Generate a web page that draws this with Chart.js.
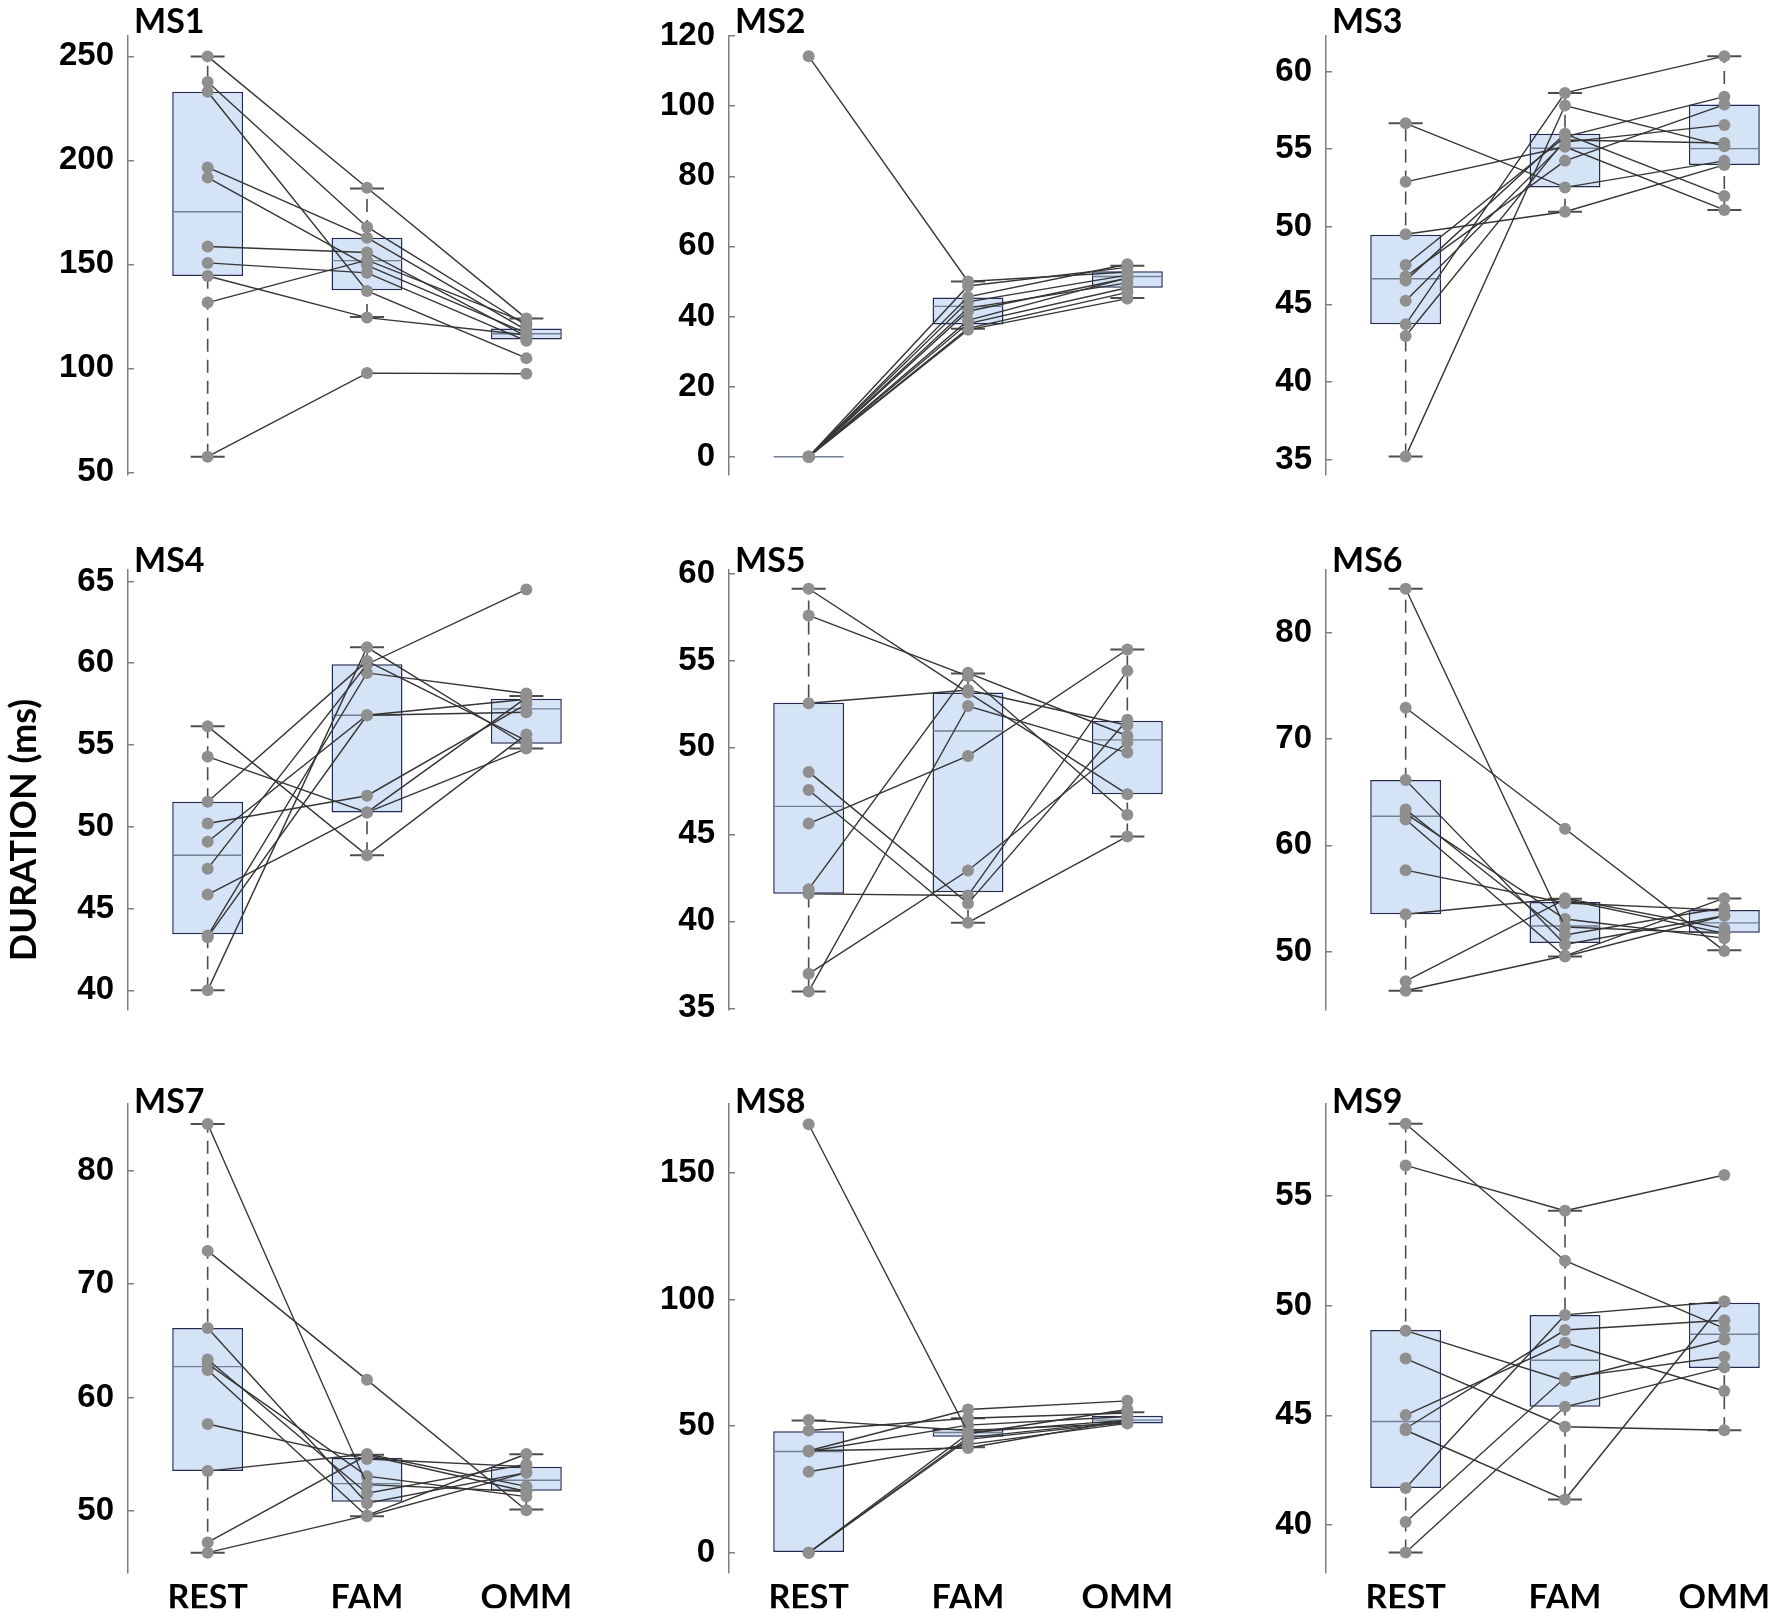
<!DOCTYPE html>
<html>
<head>
<meta charset="utf-8">
<script src="https://cdn.jsdelivr.net/npm/chart.js@4.4.1/dist/chart.umd.min.js"></script>
<style>
    html, body { margin: 0; padding: 0; background: #fff; overflow: hidden; }
    body { width: 1772px; height: 1613px; position: relative; }
    canvas { position: absolute; }
</style>
</head>
<body>
<script>
const conditions = ['REST', 'FAM', 'OMM'];

// one value per subject, same subject order in each condition
// box stats per condition: [lower whisker, q1, median, q3, upper whisker] (null = no whisker)
const ms1Rest = [250, 237.7, 233.0, 196.6, 191.7, 158.6, 150.7, 144.4, 131.6, 57.5];
const ms1Fam = [186.8, 168.0, 137.2, 162.8, 149.5, 155.7, 145.9, 124.4, 152.0, 97.7];
const ms1Omm = [124.0, 120.7, 104.9, 118.4, 116.9, 115.4, 113.2, 116.0, 122.0, 97.4];
const ms1Box = [[57.5, 144.4, 175.3, 233.0, 250], [124.7, 137.5, 151.8, 162.8, 186.5], [null, 113.8, 116.6, 119.2, 124.0]];
const ms1Ticks = [50, 100, 150, 200, 250];
const ms1Range = [48.7, 259.8];

const ms2Rest = [114.2, 0, 0, 0, 0, 0, 0, 0, 0, 0];
const ms2Fam = [50.0, 48.7, 45.6, 44.2, 42.4, 41.5, 38.9, 38.0, 36.6, 36.2];
const ms2Omm = [52.7, 54.0, 54.9, 51.8, 49.6, 50.9, 51.0, 48.2, 46.9, 45.1];
const ms2Box = [[null, 0, 0, 0, null], [36.5, 37.7, 42.9, 45.4, 50.0], [45.3, 48.2, 51.4, 52.9, 54.5]];
const ms2Ticks = [0, 20, 40, 60, 80, 100, 120];
const ms2Range = [-5.2, 120];

const ms3Rest = [56.67, 52.90, 49.52, 47.54, 46.79, 46.53, 45.24, 43.71, 42.96, 35.20];
const ms3Fam = [52.54, 55.16, 50.97, 55.8, 54.25, 56.0, 55.46, 58.63, 55.6, 57.82];
const ms3Omm = [54.25, 51.09, 53.99, 58.39, 57.88, 51.98, 56.57, 61.0, 55.4, 55.2];
const ms3Box = [[35.2, 43.71, 46.65, 49.48, 56.67], [50.97, 52.54, 55.06, 56.0, 58.63], [51.09, 53.99, 55.04, 57.88, 61.0]];
const ms3Ticks = [35, 40, 45, 50, 55, 60];
const ms3Range = [34.0, 62.3];

const ms4Rest = [56.14, 54.29, 51.53, 50.20, 49.09, 47.44, 45.86, 43.35, 43.25, 40.0];
const ms4Fam = [48.26, 50.88, 60.13, 51.90, 56.82, 59.94, 50.88, 59.41, 56.82, 60.97];
const ms4Omm = [55.65, 57.9, 55.27, 57.5, 57.0, 64.51, 54.78, 58.15, 57.8, 54.97];
const ms4Box = [[40.0, 43.43, 48.26, 51.53, 56.14], [48.26, 50.88, 56.82, 59.94, 60.97], [54.78, 55.07, 57.21, 57.83, 58.0]];
const ms4Ticks = [40, 45, 50, 55, 60, 65];
const ms4Range = [38.8, 65.7];

const ms5Rest = [59.12, 57.59, 52.54, 48.59, 47.55, 45.62, 41.85, 41.58, 36.98, 35.97];
const ms5Fam = [53.15, 54.10, 53.3, 41.03, 39.92, 49.51, 54.29, 41.48, 42.92, 52.38];
const ms5Omm = [47.31, 46.13, 51.27, 51.59, 44.88, 55.63, 50.67, 54.40, 50.30, 49.70];
const ms5Box = [[35.97, 41.58, 46.61, 52.56, 59.12], [39.92, 41.67, 50.94, 53.15, 54.25], [44.88, 47.31, 50.43, 51.53, 55.63]];
const ms5Ticks = [35, 40, 45, 50, 55, 60];
const ms5Range = [34.9, 60.2];

const ms6Rest = [84.14, 72.94, 66.13, 63.36, 62.97, 62.43, 57.66, 53.51, 47.21, 46.31];
const ms6Fam = [52.31, 61.56, 50.67, 51.56, 53.06, 49.53, 54.57, 55.02, 54.9, 49.6];
const ms6Omm = [51.71, 50.06, 53.37, 54.12, 51.26, 53.37, 53.9, 52.16, 51.71, 55.02];
const ms6Box = [[46.31, 53.51, 62.73, 66.13, 84.14], [49.53, 50.81, 52.40, 54.66, 54.96], [50.12, 51.77, 52.70, 53.9, 55.0]];
const ms6Ticks = [50, 60, 70, 80];
const ms6Range = [44.5, 85.9];

const ms7Rest = [84.14, 72.94, 66.13, 63.36, 62.97, 62.43, 57.66, 53.51, 47.21, 46.31];
const ms7Fam = [52.31, 61.56, 50.67, 51.56, 53.06, 49.53, 54.57, 55.02, 54.9, 49.6];
const ms7Omm = [51.71, 50.06, 53.37, 54.12, 51.26, 53.37, 53.9, 52.16, 51.71, 55.02];
const ms7Box = [[46.31, 53.51, 62.73, 66.13, 84.14], [49.53, 50.81, 52.40, 54.66, 54.96], [50.12, 51.77, 52.70, 53.9, 55.0]];
const ms7Ticks = [50, 60, 70, 80];
const ms7Range = [44.5, 85.9];

const ms8Rest = [169.3, 52.4, 48.3, 40.3, 40.3, 40.0, 32.0, 0, 0, 0];
const ms8Fam = [47.5, 48.3, 53.1, 56.6, 41.4, 50.4, 42.8, 46.9, 45.5, 44.8];
const ms8Omm = [52.4, 51.1, 55.2, 60.0, 52.4, 53.8, 51.1, 56.6, 52.0, 51.5];
const ms8Box = [[null, 0, 40.0, 48.0, 52.2], [41.7, 45.8, 47.5, 49.0, 53.1], [null, 51.1, 52.4, 54.1, 55.5]];
const ms8Ticks = [0, 50, 100, 150];
const ms8Range = [-8.1, 177.3];

const ms9Rest = [58.30, 56.40, 48.86, 47.59, 45.01, 44.40, 44.32, 41.69, 40.14, 38.74];
const ms9Fam = [52.05, 54.33, 46.58, 44.48, 48.31, 48.89, 41.16, 49.58, 46.71, 45.39];
const ms9Omm = [48.97, 55.96, 48.46, 44.32, 46.11, 49.34, 50.19, 50.19, 47.67, 47.19];
const ms9Box = [[38.74, 41.69, 44.72, 48.89, 58.30], [41.16, 45.39, 47.51, 49.58, 54.33], [44.32, 47.16, 48.70, 50.14, null]];
const ms9Ticks = [40, 45, 50, 55];
const ms9Range = [37.8, 59.2];

const panels = [
    { name: 'MS1', rest: ms1Rest, fam: ms1Fam, omm: ms1Omm, box: ms1Box, ticks: ms1Ticks, range: ms1Range },
    { name: 'MS2', rest: ms2Rest, fam: ms2Fam, omm: ms2Omm, box: ms2Box, ticks: ms2Ticks, range: ms2Range },
    { name: 'MS3', rest: ms3Rest, fam: ms3Fam, omm: ms3Omm, box: ms3Box, ticks: ms3Ticks, range: ms3Range },
    { name: 'MS4', rest: ms4Rest, fam: ms4Fam, omm: ms4Omm, box: ms4Box, ticks: ms4Ticks, range: ms4Range },
    { name: 'MS5', rest: ms5Rest, fam: ms5Fam, omm: ms5Omm, box: ms5Box, ticks: ms5Ticks, range: ms5Range },
    { name: 'MS6', rest: ms6Rest, fam: ms6Fam, omm: ms6Omm, box: ms6Box, ticks: ms6Ticks, range: ms6Range },
    { name: 'MS7', rest: ms7Rest, fam: ms7Fam, omm: ms7Omm, box: ms7Box, ticks: ms7Ticks, range: ms7Range },
    { name: 'MS8', rest: ms8Rest, fam: ms8Fam, omm: ms8Omm, box: ms8Box, ticks: ms8Ticks, range: ms8Range },
    { name: 'MS9', rest: ms9Rest, fam: ms9Fam, omm: ms9Omm, box: ms9Box, ticks: ms9Ticks, range: ms9Range }
];

// page layout (px): y axis line per column, plot top/bottom per row
const colX = [127.5, 728.5, 1326];
const rowTop = [35.5, 570, 1104];
const rowBottom = [510, 1045, 1578];
const titleDy = [-3.5, 1.5, 9];
const PAD_TOP = 45;
const AXIS_W = 127;
const PLOT_W = 478;
const XLAB_H = 35;

const FONT_TITLE = 'Lato, "Open Sans", sans-serif';
const FONT_TICK = '"Liberation Sans", Arial, sans-serif';

// panel name + shared y axis caption
const panelText = {
    id: 'panelText',
    afterDraw(chart, args, opts) {
        const ctx = chart.ctx;
        const area = chart.chartArea;
        ctx.save();
        ctx.fillStyle = '#000';
        ctx.font = 'bold 34px ' + FONT_TITLE;
        ctx.textAlign = 'left';
        ctx.textBaseline = 'alphabetic';
        ctx.fillText(opts.title, area.left + 6, area.top + opts.dy);
        if (opts.side) {
            ctx.translate(area.left - 104, (area.top + area.bottom) / 2 + 40);
            ctx.rotate(-Math.PI / 2);
            ctx.textAlign = 'center';
            ctx.textBaseline = 'middle';
            ctx.font = 'bold 36px ' + FONT_TITLE;
            ctx.fillText(opts.side, 0, 0);
        }
        ctx.restore();
    }
};

panels.forEach((p, k) => {
    const col = k % 3;
    const row = Math.floor(k / 3);
    const bottomRow = row === 2;
    const plotH = rowBottom[row] - rowTop[row];
    const padBottom = bottomRow ? 0 : 5;
    const w = AXIS_W + PLOT_W + 2;
    const h = PAD_TOP + plotH + (bottomRow ? XLAB_H : 0) + padBottom;

    const canvas = document.createElement('canvas');
    canvas.width = w;
    canvas.height = h;
    canvas.style.left = (colX[col] - AXIS_W) + 'px';
    canvas.style.top = (rowTop[row] - PAD_TOP) + 'px';
    canvas.style.width = w + 'px';
    canvas.style.height = h + 'px';
    document.body.appendChild(canvas);

    const whiskers = [];
    const caps = [];
    p.box.forEach((b, i) => {
        const lo = b[0] === null ? b[1] : b[0];
        const hi = b[4] === null ? b[3] : b[4];
        if (lo !== hi) {
            whiskers.push({ x: conditions[i], y: lo }, { x: conditions[i], y: hi }, { x: conditions[i], y: null });
        }
        if (b[0] !== null) caps.push({ x: conditions[i], y: b[0] });
        if (b[4] !== null) caps.push({ x: conditions[i], y: b[4] });
    });

    const datasets = [
        {
            type: 'line', data: whiskers, borderColor: '#4d4d4d', borderWidth: 1.6,
            borderDash: [13, 8], pointRadius: 0, fill: false, order: 10, clip: false
        },
        {
            type: 'bar', data: p.box.map(b => [b[1], b[3]]),
            backgroundColor: '#d5e3f6', borderColor: '#252a55', borderWidth: 1.5,
            borderSkipped: false, barPercentage: 0.445, categoryPercentage: 1, order: 9
        },
        {
            type: 'line', data: p.box.map(b => b[2]), showLine: false, pointStyle: 'line',
            pointRadius: 35, pointBorderColor: '#738092', pointBorderWidth: 1.4, order: 8, clip: false
        },
        {
            type: 'line', data: caps, showLine: false, pointStyle: 'line',
            pointRadius: 17, pointBorderColor: '#4d4d4d', pointBorderWidth: 2, order: 7, clip: false
        }
    ];

    p.rest.forEach((r, i) => {
        datasets.push({
            type: 'line', data: [r, p.fam[i], p.omm[i]],
            borderColor: '#353535', borderWidth: 1.4, tension: 0,
            pointRadius: 6, pointBackgroundColor: '#8f8f8f', pointBorderColor: '#8f8f8f',
            pointBorderWidth: 0, order: 1, clip: false
        });
    });

    new Chart(canvas, {
        type: 'bar',
        data: { labels: conditions, datasets: datasets },
        options: {
            responsive: false,
            animation: false,
            events: [],
            layout: { padding: { top: PAD_TOP, bottom: padBottom, left: 0, right: 2 }, autoPadding: false },
            plugins: {
                legend: { display: false },
                tooltip: { enabled: false },
                panelText: { title: p.name, dy: titleDy[row], side: k === 3 ? 'DURATION (ms)' : null }
            },
            scales: {
                x: {
                    display: bottomRow,
                    afterFit: axis => { axis.height = XLAB_H; },
                    grid: { display: false },
                    border: { display: false },
                    ticks: {
                        padding: 0, color: '#000',
                        font: { family: FONT_TITLE, size: 34, weight: 'bold', lineHeight: 1 }
                    }
                },
                y: {
                    min: p.range[0],
                    max: p.range[1],
                    afterBuildTicks: axis => { axis.ticks = p.ticks.map(v => ({ value: v })); },
                    afterFit: axis => { axis.width = AXIS_W; },
                    border: { display: true, color: '#7f7f7f', width: 1.5 },
                    grid: { drawOnChartArea: false, drawTicks: true, tickLength: -6, color: '#7f7f7f', lineWidth: 1.5 },
                    ticks: {
                        autoSkip: false, padding: 20, color: '#000',
                        font: { family: FONT_TICK, size: 33, weight: 'bold' }
                    }
                }
            }
        },
        plugins: [panelText]
    });
});
</script>
</body>
</html>
